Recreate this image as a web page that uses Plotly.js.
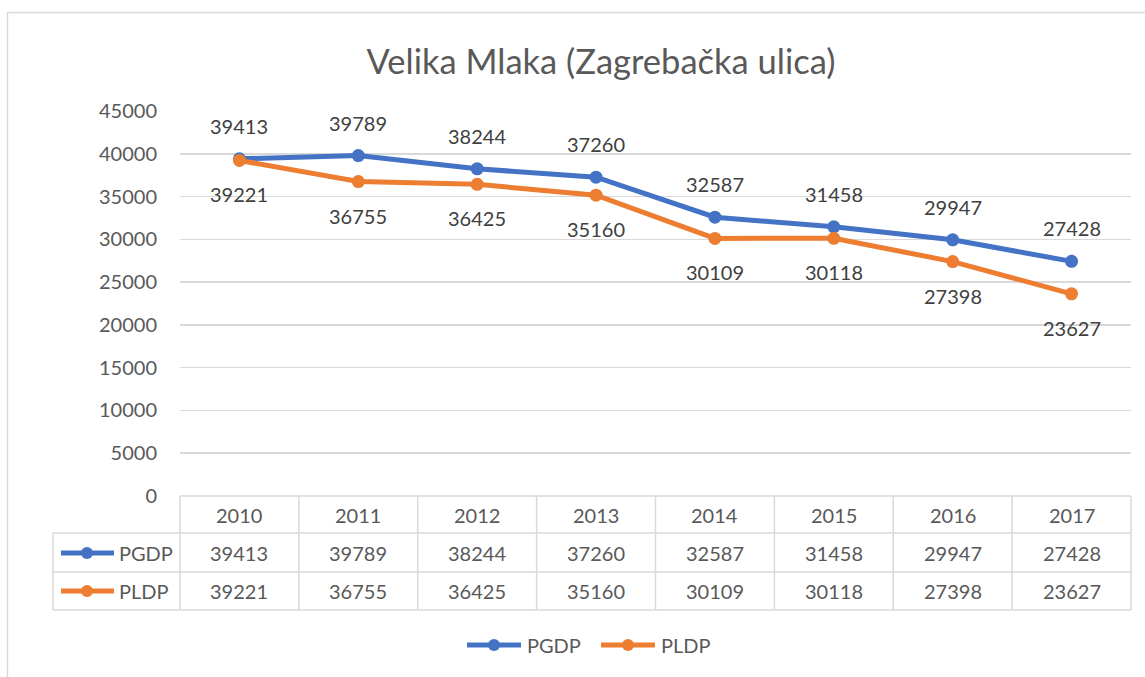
<!DOCTYPE html>
<html>
<head>
<meta charset="utf-8">
<script src="https://cdn.plot.ly/plotly-3.0.1.min.js"></script>
<style>html,body{margin:0;padding:0;background:#fff;}#chart{width:1145px;height:677px;}</style>
</head>
<body>
<div id="chart"></div>
<script>
const years = ['2010','2011','2012','2013','2014','2015','2016','2017'];
const pgdp = [39413, 39789, 38244, 37260, 32587, 31458, 29947, 27428];
const pldp = [39221, 36755, 36425, 35160, 30109, 30118, 27398, 23627];
const seriesNames = ['PGDP', 'PLDP'];
const yTicks = [0, 5000, 10000, 15000, 20000, 25000, 30000, 35000, 40000, 45000];

const BLUE = '#4472C4', ORANGE = '#ED7D31';
const TXT = '#595959', LBL = '#404040', GRID = '#d9d9d9';
const FONT = 'Lato, Carlito, "Open Sans", sans-serif';

// pixel geometry helpers (figure 1145x677)
const L = 180, R = 1131, T = 111, B = 496;
const W = R - L, H = B - T;
const px2x = p => (p - L) / W;
const py2y = p => (B - p) / H;

const xs = years.map((_, i) => i);
const colors = [BLUE, ORANGE];

const traces = [
  {x: xs, y: pgdp, name: seriesNames[0], type: 'scatter', mode: 'lines+markers',
   line: {color: BLUE, width: 5}, marker: {color: BLUE, size: 13}, showlegend: false},
  {x: xs, y: pldp, name: seriesNames[1], type: 'scatter', mode: 'lines+markers',
   line: {color: ORANGE, width: 5}, marker: {color: ORANGE, size: 13}, showlegend: false}
];

const annotations = [];
const shapes = [];

// data labels
xs.forEach(i => {
  annotations.push({x: i, y: pgdp[i], xref: 'x', yref: 'y', text: String(pgdp[i]), showarrow: false,
    yshift: 33, font: {family: FONT, size: 20, color: LBL}});
  annotations.push({x: i, y: pldp[i], xref: 'x', yref: 'y', text: String(pldp[i]), showarrow: false,
    yshift: -34, font: {family: FONT, size: 20, color: LBL}});
});

// data table
const rowY = [py2y(515), py2y(553), py2y(591)];
const rows = [years, pgdp, pldp];
rows.forEach((row, r) => {
  row.forEach((v, i) => {
    annotations.push({x: i, y: rowY[r], xref: 'x', yref: 'paper', xanchor: 'center', yanchor: 'middle',
      text: String(v), showarrow: false, font: {family: FONT, size: 20, color: TXT}});
  });
});

function legendKey(cx, yy, color, lx0, lx1) {
  shapes.push({type: 'line', xref: 'paper', yref: 'paper', x0: px2x(lx0), x1: px2x(lx1), y0: yy, y1: yy,
    line: {color: color, width: 5}});
  shapes.push({type: 'circle', xref: 'paper', yref: 'paper', xsizemode: 'pixel', ysizemode: 'pixel',
    xanchor: px2x(cx), yanchor: yy, x0: -6, x1: 6, y0: -6, y1: 6,
    fillcolor: color, line: {color: color, width: 0}});
}

seriesNames.forEach((n, k) => {
  const yy = rowY[k + 1];
  annotations.push({x: px2x(117), y: yy, xref: 'paper', yref: 'paper', xanchor: 'left', yanchor: 'middle',
    text: n, showarrow: false, font: {family: FONT, size: 20, color: TXT}});
  legendKey(87, yy, colors[k], 61, 114);
});

// bottom legend
const legY = py2y(645);
const legStarts = [466, 600];
seriesNames.forEach((n, k) => {
  const s = legStarts[k];
  legendKey(s + 28, legY, colors[k], s + 1, s + 55);
  annotations.push({x: px2x(s + 59), y: legY, xref: 'paper', yref: 'paper', xanchor: 'left', yanchor: 'middle',
    text: n, showarrow: false, font: {family: FONT, size: 20, color: TXT}});
});

const tl = {color: GRID, width: 1.5};
// horizontal table lines
shapes.push({type: 'line', xref: 'paper', yref: 'paper', x0: 0, x1: 1, y0: 0, y1: 0, line: tl});
[533, 572, 610].forEach(p => {
  shapes.push({type: 'line', xref: 'paper', yref: 'paper', x0: px2x(53), x1: 1, y0: py2y(p), y1: py2y(p), line: tl});
});
// vertical table lines
for (let i = 0; i <= years.length; i++) {
  shapes.push({type: 'line', xref: 'paper', yref: 'paper', x0: i / years.length, x1: i / years.length,
    y0: 0, y1: py2y(610), line: tl});
}
shapes.push({type: 'line', xref: 'paper', yref: 'paper', x0: px2x(53), x1: px2x(53),
  y0: py2y(533), y1: py2y(610), line: tl});

// outer chart border
shapes.push({type: 'rect', xref: 'paper', yref: 'paper', x0: px2x(7.5), x1: px2x(1200), y0: py2y(12.5), y1: py2y(720),
  line: {color: GRID, width: 1.5}, fillcolor: 'rgba(0,0,0,0)', layer: 'below'});

const layout = {
  width: 1145, height: 677,
  margin: {l: L, r: 1145 - R, t: T, b: 677 - B, pad: 0},
  paper_bgcolor: '#fff', plot_bgcolor: '#fff',
  font: {family: FONT, size: 20, color: TXT},
  title: {text: 'Velika Mlaka (Zagrebačka ulica)', xref: 'container', yref: 'container',
    x: 601 / 1145, y: 1 - 62 / 677, xanchor: 'center', yanchor: 'middle',
    font: {family: FONT, size: 34.5, color: TXT}},
  xaxis: {range: [-0.5, years.length - 0.5], showticklabels: false, showgrid: false, zeroline: false,
    showline: false, ticks: '', fixedrange: true},
  yaxis: {range: [0, 45000], tickvals: yTicks, ticktext: yTicks.map(String), showgrid: true, gridcolor: GRID,
    gridwidth: 1.5, zeroline: false, showline: false, ticks: '', ticklabelstandoff: 22,
    tickfont: {family: FONT, size: 20, color: TXT}, fixedrange: true},
  showlegend: false,
  annotations: annotations,
  shapes: shapes
};

Plotly.newPlot('chart', traces, layout, {displayModeBar: false, staticPlot: true});
</script>
</body>
</html>
